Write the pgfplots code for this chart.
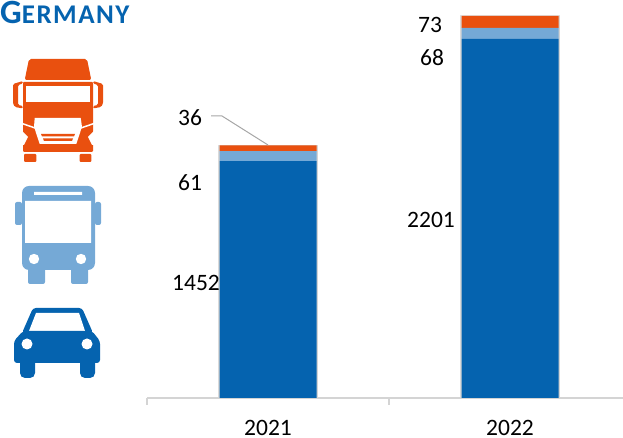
\documentclass[border=0pt]{standalone}
\usepackage{pgfplots}
\pgfplotsset{compat=1.18}
\usepackage{fontspec}
\setmainfont{Carlito}
\definecolor{cblue}{HTML}{0563AF}
\definecolor{lblue}{HTML}{75A9D6}
\definecolor{orng}{HTML}{E9500F}
\definecolor{axgray}{HTML}{D4D4D4}
\pgfplotsset{base/.style={
  at={(147pt,40pt)},anchor=origin,
  scale only axis,width=484pt,height=382pt,
  xmin=0,xmax=2,ymin=0,ymax=2342,clip=false}}
\begin{document}
\begin{tikzpicture}[x=1pt,y=1pt]
\clip (0,0) rectangle (623,438);
% shadow layer
\begin{axis}[base,hide axis,ybar,bar width=99pt]
\addplot[fill=black!35,draw=black!25,line width=1pt,opacity=.45,bar shift=0pt] coordinates {(0.5,1549) (1.5,2342)};
\end{axis}
\begin{axis}[base,ybar stacked,bar width=97pt,
  axis y line=none,axis x line=bottom,axis line style={axgray,line width=1.3pt,-},
  xtick={0,1,2},xticklabels={},
  tick style={axgray,line width=1.3pt},tick align=outside,major tick length=7pt,
  extra x ticks={0.5,1.5},extra x tick labels={2021,2022},
  extra x tick style={major tick length=0pt,tick label style={yshift=-22pt,inner sep=0pt}},
  ticklabel style={font=\fontsize{23.5}{24}\selectfont,text=black},
  /pgf/number format/assume math mode=true]
\addplot[fill=cblue,draw=none] coordinates {(0.5,1452) (1.5,2201)};
\addplot[fill=lblue,draw=none] coordinates {(0.5,61) (1.5,68)};
\addplot[fill=orng,draw=none] coordinates {(0.5,36) (1.5,73)};
\end{axis}
\begin{scope}[yshift=438pt,x=1pt,y=-1pt]
% data labels and leader
\draw[gray!70,line width=1pt] (211,116)--(222,116)--(268,145);
\begin{scope}[every node/.style={font=\fontsize{23.5}{24}\selectfont,inner sep=0pt}]
\node at (190,118) {36};
\node at (190,183) {61};
\node at (196,283) {1452};
\node at (430,25) {73};
\node at (432,58) {68};
\node at (431,220) {2201};
\end{scope}
% title
\node[anchor=base west,inner sep=0pt,text=cblue,font=\bfseries] at (0,24)
  {\fontsize{34}{34}\selectfont G\fontsize{27}{27}\selectfont\addfontfeature{LetterSpace=5.5}ERMANY};
% truck
\fill[orng,rounded corners=2pt] (24.7,80)--(29,59)--(87,59)--(91.3,80)--cycle;
\fill[orng,rounded corners=1pt] (23,82) rectangle (93,152);
\fill[white] (26.3,85.7) rectangle (89.7,101.7);
\fill[white] (34.7,118)--(80.7,118)--(82,126.7)--(76.3,144)--(39.7,144)--(34,126.7)--cycle;
\fill[orng] (41,134)--(75,134)--(74,136.5)--(42,136.5)--cycle (43,138.5)--(73,138.5)--(72,141)--(44,141)--cycle;
\draw[white,line width=1.5pt] (22,123.5)--(35,128) (94,123.5)--(81,128);
\fill[white] (22,131)--(28,137)--(24,145)--(22,145)--cycle (94,131)--(88,137)--(92,145)--(94,145)--cycle;
\fill[orng,rounded corners=1pt] (24,154) rectangle (36.3,162) (79.7,154) rectangle (91.3,162);
\fill[orng,rounded corners=1.5pt] (13,84)--(23,81)--(23,83.5)--(18,85)--(18,105)--(23,106)--(23,108.5)--(15,107)--(13,104)--cycle;
\fill[orng,rounded corners=1.5pt] (103,84)--(93,81)--(93,83.5)--(98,85)--(98,105)--(93,106)--(93,108.5)--(101,107)--(103,104)--cycle;
% bus
\fill[lblue,rounded corners=7pt] (22,186) rectangle (95,270);
\fill[white] (25,201) rectangle (91,243) (34,192) rectangle (82,195);
\fill[white] (34,259) circle (5.2) (81,259) circle (5.2);
\fill[lblue,rounded corners=2pt] (15,202) rectangle (22,225) (95,202) rectangle (101,225) (28,265) rectangle (45,284) (71,265) rectangle (88,284);
% car
\fill[cblue,rounded corners=3pt] (22,333)--(33,308)--(82,308)--(93,333)--cycle;
\fill[white] (36,313)--(79,313)--(85,331)--(29,331)--cycle;
\fill[cblue,rounded corners=3pt] (14,363)--(14,341)--(23,331)--(92,331)--(100,341)--(100,363)--cycle;
\fill[white] (27,344) circle (5.5) (87,344) circle (5.5);
\fill[cblue,rounded corners=5pt] (20,358) rectangle (35,378) (80,358) rectangle (95,378);
\end{scope}
\end{tikzpicture}
\end{document}
